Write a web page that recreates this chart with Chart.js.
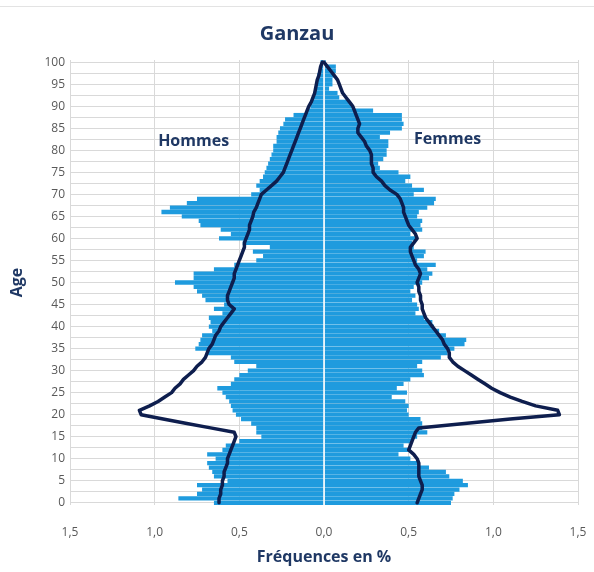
<!DOCTYPE html>
<html>
<head>
<meta charset="utf-8">
<script src="https://cdn.jsdelivr.net/npm/chart.js@4.4.1/dist/chart.umd.min.js"></script>
<style>
  html, body { margin: 0; padding: 0; background: #fff; overflow: hidden; }
  #wrap { position: relative; width: 594px; height: 572px; }
  #wrap canvas { display: block; }
  #topline { position: absolute; left: 0; top: 6px; width: 594px; height: 0; border-top: 1px solid #e3e3e3; }
</style>
</head>
<body>
<div id="wrap">
  <div id="topline"></div>
  <canvas id="pyramid"></canvas>
</div>
<script>
// ages 0..100 (bottom to top)
const ages = [
  0, 1, 2, 3, 4, 5, 6, 7, 8, 9,
  10, 11, 12, 13, 14, 15, 16, 17, 18, 19,
  20, 21, 22, 23, 24, 25, 26, 27, 28, 29,
  30, 31, 32, 33, 34, 35, 36, 37, 38, 39,
  40, 41, 42, 43, 44, 45, 46, 47, 48, 49,
  50, 51, 52, 53, 54, 55, 56, 57, 58, 59,
  60, 61, 62, 63, 64, 65, 66, 67, 68, 69,
  70, 71, 72, 73, 74, 75, 76, 77, 78, 79,
  80, 81, 82, 83, 84, 85, 86, 87, 88, 89,
  90, 91, 92, 93, 94, 95, 96, 97, 98, 99,
  100
];

// Ganzau, % per age
const hommes = [
  0.65, 0.86, 0.75, 0.72, 0.75, 0.57, 0.65, 0.66, 0.68, 0.69,
  0.64, 0.69, 0.60, 0.58, 0.50, 0.37, 0.40, 0.40, 0.43, 0.49,
  0.52, 0.54, 0.55, 0.56, 0.58, 0.60, 0.63, 0.55, 0.53, 0.50,
  0.45, 0.40, 0.53, 0.55, 0.69, 0.76, 0.74, 0.73, 0.72, 0.66,
  0.68, 0.67, 0.68, 0.60, 0.65, 0.59, 0.70, 0.72, 0.75, 0.77,
  0.88, 0.77, 0.77, 0.65, 0.53, 0.40, 0.36, 0.42, 0.32, 0.48,
  0.62, 0.55, 0.61, 0.73, 0.74, 0.84, 0.96, 0.91, 0.81, 0.75,
  0.43, 0.38, 0.40, 0.38, 0.36, 0.35, 0.34, 0.33, 0.32, 0.31,
  0.30, 0.30, 0.28, 0.28, 0.27, 0.26, 0.24, 0.23, 0.18, 0.10,
  0.08, 0.07, 0.07, 0.06, 0.05, 0.05, 0.04, 0.04, 0.03, 0.02,
  0.02
];
const femmes = [
  0.75, 0.76, 0.77, 0.80, 0.85, 0.82, 0.74, 0.72, 0.62, 0.56,
  0.51, 0.44, 0.51, 0.47, 0.52, 0.55, 0.61, 0.58, 0.58, 0.57,
  0.50, 0.49, 0.50, 0.48, 0.40, 0.49, 0.43, 0.47, 0.51, 0.59,
  0.58, 0.55, 0.58, 0.69, 0.73, 0.77, 0.83, 0.84, 0.72, 0.68,
  0.65, 0.64, 0.59, 0.54, 0.56, 0.55, 0.52, 0.54, 0.51, 0.53,
  0.58, 0.62, 0.64, 0.61, 0.66, 0.55, 0.59, 0.60, 0.53, 0.52,
  0.54, 0.51, 0.58, 0.57, 0.58, 0.55, 0.56, 0.61, 0.65, 0.66,
  0.53, 0.59, 0.52, 0.48, 0.51, 0.44, 0.33, 0.32, 0.35, 0.37,
  0.37, 0.38, 0.38, 0.33, 0.39, 0.46, 0.47, 0.46, 0.46, 0.29,
  0.17, 0.15, 0.09, 0.08, 0.03, 0.05, 0.05, 0.06, 0.07, 0.07,
  0.01
];

// reference profile (lines)
const refHommes = [
  0.62, 0.62, 0.61, 0.61, 0.60, 0.60, 0.59, 0.59, 0.58, 0.57,
  0.57, 0.56, 0.55, 0.54, 0.53, 0.52, 0.53, 0.67, 0.81, 0.95,
  1.08, 1.09, 1.03, 0.98, 0.94, 0.90, 0.88, 0.85, 0.83, 0.80,
  0.77, 0.75, 0.72, 0.70, 0.69, 0.68, 0.66, 0.65, 0.64, 0.62,
  0.61, 0.59, 0.57, 0.55, 0.53, 0.56, 0.57, 0.57, 0.56, 0.55,
  0.54, 0.53, 0.53, 0.52, 0.51, 0.50, 0.49, 0.48, 0.47, 0.47,
  0.46, 0.45, 0.44, 0.44, 0.43, 0.42, 0.415, 0.40, 0.39, 0.38,
  0.37, 0.34, 0.31, 0.28, 0.26, 0.24, 0.23, 0.22, 0.21, 0.20,
  0.19, 0.18, 0.17, 0.16, 0.15, 0.14, 0.13, 0.12, 0.11, 0.10,
  0.09, 0.075, 0.065, 0.055, 0.05, 0.045, 0.04, 0.03, 0.025, 0.02,
  0.01
];
const refFemmes = [
  0.55, 0.56, 0.57, 0.58, 0.58, 0.57, 0.56, 0.56, 0.56, 0.56,
  0.55, 0.53, 0.50, 0.51, 0.52, 0.53, 0.54, 0.56, 0.83, 1.10,
  1.39, 1.38, 1.25, 1.17, 1.10, 1.04, 0.99, 0.95, 0.91, 0.87,
  0.83, 0.79, 0.76, 0.74, 0.74, 0.73, 0.71, 0.70, 0.68, 0.66,
  0.64, 0.62, 0.60, 0.59, 0.58, 0.58, 0.57, 0.57, 0.56, 0.56,
  0.55, 0.56, 0.57, 0.56, 0.54, 0.53, 0.52, 0.51, 0.51, 0.53,
  0.55, 0.54, 0.52, 0.50, 0.49, 0.48, 0.47, 0.47, 0.46, 0.45,
  0.43, 0.39, 0.36, 0.34, 0.31, 0.29, 0.29, 0.28, 0.28, 0.28,
  0.27, 0.25, 0.24, 0.22, 0.20, 0.20, 0.21, 0.20, 0.19, 0.18,
  0.17, 0.15, 0.13, 0.11, 0.10, 0.09, 0.08, 0.06, 0.04, 0.02,
  0.00
];

const BAR = '#1F9BDE';
const NAVY = '#0E1E4E';
const TXT = '#1F3864';
const FONT = "'Open Sans', sans-serif";

const toPoints = (vals, sign) => vals.map((v, i) => ({ x: sign * v, y: ages[i] }));

// white line on 0, side labels, title centred on the whole canvas
const overlay = {
    id: 'overlay',
    afterDatasetDraw(chart, args) {
        if (chart.getDatasetMeta(args.index).type !== 'bar') return;
        const { ctx, chartArea, scales } = chart;
        const x0 = scales.x.getPixelForValue(0);
        ctx.save();
        ctx.strokeStyle = '#ffffff';
        ctx.lineWidth = 1.2;
        ctx.beginPath();
        ctx.moveTo(x0, chartArea.top);
        ctx.lineTo(x0, chartArea.bottom);
        ctx.stroke();
        ctx.restore();
    },
    afterDraw(chart) {
        const { ctx, scales } = chart;
        const tb = chart.titleBlock;
        ctx.save();
        ctx.fillStyle = TXT;
        ctx.textAlign = 'center';
        ctx.textBaseline = 'middle';
        ctx.font = "bold 20px " + FONT;
        ctx.fillText('Ganzau', chart.width / 2, tb.top + 18 + 12);
        ctx.font = "bold 16px " + FONT;
        ctx.fillText('Hommes', scales.x.getPixelForValue(-0.77), scales.y.getPixelForValue(82));
        ctx.fillText('Femmes', scales.x.getPixelForValue(0.73), scales.y.getPixelForValue(82.4));
        ctx.restore();
    }
};

const barStyle = {
    type: 'bar',
    backgroundColor: BAR,
    grouped: false,
    barPercentage: 0.97,
    categoryPercentage: 1,
    order: 2
};
const lineStyle = {
    type: 'line',
    borderColor: NAVY,
    borderWidth: 3.5,
    pointRadius: 0,
    tension: 0,
    borderJoinStyle: 'round',
    borderCapStyle: 'round',
    order: 1
};

new Chart(document.getElementById('pyramid'), {
    type: 'bar',
    data: {
        datasets: [
            { ...barStyle, label: 'Hommes', data: toPoints(hommes, -1) },
            { ...barStyle, label: 'Femmes', data: toPoints(femmes, 1) },
            { ...lineStyle, label: 'Réf. hommes', data: toPoints(refHommes, -1) },
            { ...lineStyle, label: 'Réf. femmes', data: toPoints(refFemmes, 1) }
        ]
    },
    options: {
        indexAxis: 'y',
        responsive: true,
        maintainAspectRatio: false,
        animation: false,
        layout: { padding: { top: 4, left: 0, right: 16, bottom: 0 } },
        plugins: {
            legend: { display: false },
            tooltip: { enabled: false },
            title: {
                // space holder only, text is drawn by the overlay plugin
                display: true,
                text: 'Ganzau',
                color: 'rgba(0,0,0,0)',
                font: { family: FONT, size: 20, weight: 'bold' },
                padding: { top: 18, bottom: 14 }
            }
        },
        scales: {
            x: {
                type: 'linear',
                min: -1.5,
                max: 1.5,
                offset: false,
                border: { display: false },
                grid: { color: '#d9d9d9', drawTicks: true, tickLength: 18, tickColor: 'rgba(0,0,0,0)', offset: false },
                afterFit: s => { s.height = 67; },
                ticks: {
                    stepSize: 0.5,
                    padding: 2,
                    color: '#595959',
                    font: { family: FONT, size: 12 },
                    callback: v => Math.abs(v).toFixed(1).replace('.', ',')
                },
                title: {
                    display: true,
                    text: 'Fréquences en %',
                    color: TXT,
                    font: { family: FONT, size: 16, weight: 'bold' },
                    padding: { top: 5, bottom: 5 }
                }
            },
            y: {
                type: 'linear',
                min: -0.5,
                max: 100.5,
                offset: false,
                border: { display: false },
                grid: { color: '#d9d9d9', drawTicks: false, offset: false },
                afterFit: s => { s.width = 70; },
                ticks: {
                    stepSize: 2.5,
                    includeBounds: false,
                    autoSkip: false,
                    padding: 5,
                    color: '#595959',
                    font: { family: FONT, size: 12 },
                    callback: v => (v % 5 === 0 ? String(v) : '')
                },
                title: {
                    display: true,
                    text: 'Age',
                    color: TXT,
                    font: { family: FONT, size: 16, weight: 'bold' },
                    padding: { top: 8, bottom: 8 }
                }
            }
        }
    },
    plugins: [overlay]
});
</script>
</body>
</html>
